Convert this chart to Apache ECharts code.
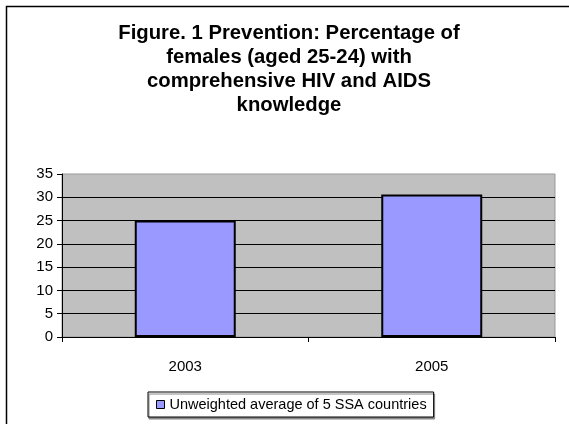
<!DOCTYPE html>
<html>
<head>
<meta charset="utf-8">
<script src="https://cdn.jsdelivr.net/npm/echarts@6/dist/echarts.min.js"></script>
<style>html,body{margin:0;padding:0;background:#fff}#c{width:569px;height:424px}</style>
</head>
<body>
<div id="c"></div>
<script>
var titleText = 'Figure. 1 Prevention: Percentage of\nfemales (aged 25-24) with\ncomprehensive HIV and AIDS\nknowledge';
var categories = ['2003', '2005'];
var seriesName = 'Unweighted average of 5 SSA countries';
var values = [25, 30.6];
var yTicks = [0, 5, 10, 15, 20, 25, 30, 35];

var chart = echarts.init(document.getElementById('c'), null, {renderer: 'canvas'});
chart.setOption({
  animation: false,
  backgroundColor: '#fff',
  textStyle: {fontFamily: 'Arial, "Liberation Sans", sans-serif'},
  title: {
    text: titleText,
    left: 289,
    textAlign: 'center',
    top: 21,
    padding: 0,
    textStyle: {fontSize: 20.3, fontWeight: 'bold', color: '#000', lineHeight: 24, fontFamily: 'Arial, "Liberation Sans", sans-serif'}
  },
  graphic: [{
    type: 'rect',
    shape: {x: 6.5, y: 6.5, width: 700, height: 600},
    style: {fill: 'none', stroke: '#000', lineWidth: 1.5},
    silent: true
  }],
  grid: {
    left: 62, top: 174, right: 14, bottom: 87,
    show: true, backgroundColor: '#c0c0c0', borderColor: '#999', borderWidth: 1
  },
  legend: {
    left: 148, top: 392,
    padding: [5, 7, 5, 8],
    borderColor: '#000', borderWidth: 1,
    shadowColor: '#888', shadowOffsetX: 1, shadowOffsetY: 2, shadowBlur: 0,
    backgroundColor: '#fff',
    icon: 'rect', itemWidth: 8, itemHeight: 8, itemGap: 5,
    textStyle: {fontSize: 14.5, color: '#000', fontFamily: 'Arial, "Liberation Sans", sans-serif', padding: [0, 0, 0, 0]},
    itemStyle: {borderColor: '#000', borderWidth: 1},
    data: [seriesName]
  },
  xAxis: {
    type: 'category',
    data: categories,
    boundaryGap: true,
    axisLine: {lineStyle: {color: '#000', width: 1}},
    axisTick: {show: true, length: 5, lineStyle: {color: '#000'}},
    axisLabel: {fontSize: 15, color: '#000', margin: 22},
    splitLine: {show: false}
  },
  yAxis: {
    type: 'value',
    min: yTicks[0], max: yTicks[yTicks.length - 1], interval: 5,
    axisLine: {show: true, lineStyle: {color: '#000', width: 1}},
    axisTick: {show: true, length: 5, lineStyle: {color: '#000'}},
    axisLabel: {fontSize: 15, color: '#000', margin: 9},
    splitLine: {show: true, showMaxLine: false, showMinLine: false, lineStyle: {color: '#000', width: 1}}
  },
  series: [{
    name: seriesName,
    type: 'bar',
    data: values,
    barWidth: 101,
    itemStyle: {color: '#9999ff', borderColor: '#000', borderWidth: 2}
  }]
});
</script>
</body>
</html>
